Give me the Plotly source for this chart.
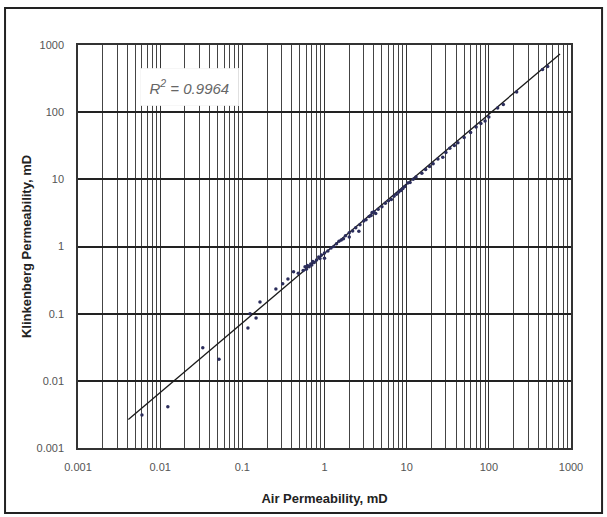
import plotly.graph_objects as go
import numpy as np

# Measured data (air permeability, Klinkenberg permeability), mD
air_perm = [0.006, 0.0124, 0.033, 0.052, 0.117, 0.124, 0.147, 0.164, 0.256, 0.31,
            0.359, 0.42, 0.48, 0.55, 0.58, 0.6, 0.62, 0.65, 0.68, 0.7, 0.72, 0.75,
            0.8, 0.85, 0.88, 0.92, 1.0, 1.0, 1.1, 1.2, 1.3, 1.4, 1.5, 1.6, 1.7, 1.8,
            2.0, 2.0, 2.2, 2.4, 2.62, 2.7, 3.0, 3.2, 3.5, 3.7, 3.8, 4.0, 4.2, 4.5,
            5.0, 5.5, 6.0, 6.5, 7.0, 7.5, 8.0, 8.5, 9.0, 9.5, 10.3, 11, 12, 13,
            15.3, 17, 19, 21, 24, 27.5, 30, 33.5, 38, 42, 50, 60, 70, 80, 90, 100,
            128, 150, 218, 450, 520]
klink_perm = [0.0031, 0.0041, 0.031, 0.021, 0.061, 0.10, 0.086, 0.149, 0.232, 0.28,
              0.327, 0.42, 0.40, 0.44, 0.50, 0.46, 0.52, 0.50, 0.55, 0.53, 0.60, 0.58,
              0.63, 0.70, 0.66, 0.75, 0.67, 0.80, 0.86, 0.95, 1.0, 1.1, 1.2, 1.25, 1.3, 1.45,
              1.38, 1.6, 1.7, 1.9, 1.69, 2.1, 2.4, 2.5, 2.8, 2.9, 3.2, 3.3, 3.1, 3.6,
              3.9, 4.4, 4.8, 5.0, 5.6, 6.0, 6.5, 6.8, 7.3, 7.8, 8.8, 9.0, 10, 10.8,
              12.3, 14, 15.5, 17, 20, 21.4, 25, 29, 32, 35, 42, 50, 60, 68, 74, 85,
              115, 130, 200, 430, 480]

# Power-law trend line: k_L = coef * k_air ** expo
fit_coef = 0.79
fit_expo = 1.036
fit_range = [0.0041, 735]
r2_text = "R<sup>2</sup> = 0.9964"

x_title = "Air Permeability, mD"
y_title = "Klinkenberg Permeability, mD"
tick_vals = [0.001, 0.01, 0.1, 1, 10, 100, 1000]
tick_text = ["0.001", "0.01", "0.1", "1", "10", "100", "1000"]

fx = np.logspace(np.log10(fit_range[0]), np.log10(fit_range[1]), 50)
fy = fit_coef * fx ** fit_expo

fig = go.Figure()
fig.add_trace(go.Scatter(x=fx, y=fy, mode="lines",
                         line=dict(color="#1a1a1a", width=1.3),
                         hoverinfo="skip", showlegend=False))
fig.add_trace(go.Scatter(x=air_perm, y=klink_perm, mode="markers",
                         marker=dict(color="#2b2d5c", size=3.5),
                         showlegend=False))

tickfont = dict(family="Liberation Sans Narrow, Liberation Sans, Arial", size=11, color="#555555")
titlefont = dict(family="Liberation Sans, Arial", size=13, color="#222222")

fig.update_xaxes(type="log", range=[-3, 3], tickvals=tick_vals, ticktext=tick_text,
                 tickfont=tickfont, ticks="", ticklabelstandoff=8,
                 showgrid=True, gridcolor="#333333", gridwidth=1,
                 minor=dict(showgrid=True, dtick="D1", gridcolor="#444444", gridwidth=1),
                 showline=True, linecolor="#333333", linewidth=1.5, mirror=True,
                 zeroline=False,
                 title=dict(text="<b>" + x_title + "</b>", font=titlefont, standoff=22))
fig.update_yaxes(type="log", range=[-3, 3], tickvals=tick_vals, ticktext=tick_text,
                 tickfont=tickfont, ticks="", ticklabelstandoff=10,
                 showgrid=True, gridcolor="#222222", gridwidth=1.5,
                 showline=True, linecolor="#333333", linewidth=1.5, mirror=True,
                 zeroline=False,
                 title=dict(text="<b>" + y_title + "</b>", font=titlefont, standoff=2))

fig.add_annotation(x=0.227, y=0.896, xref="paper", yref="paper",
                   xanchor="center", yanchor="middle",
                   text="<i>" + r2_text + "</i>", showarrow=False,
                   font=dict(family="Liberation Sans Narrow, Liberation Sans, Arial", size=15, color="#666666"),
                   bgcolor="white", borderpad=9, bordercolor="#eeeeee", borderwidth=0.5)

# Outer frame
fig.add_shape(type="rect", xref="paper", yref="paper",
              x0=-0.148, x1=1.063, y0=-0.161, y1=1.092,
              line=dict(color="#222222", width=2), layer="below")

fig.update_layout(width=607, height=517,
                  margin=dict(l=78, r=36, t=45, b=69),
                  paper_bgcolor="white", plot_bgcolor="white")

fig.write_html("out.html")
